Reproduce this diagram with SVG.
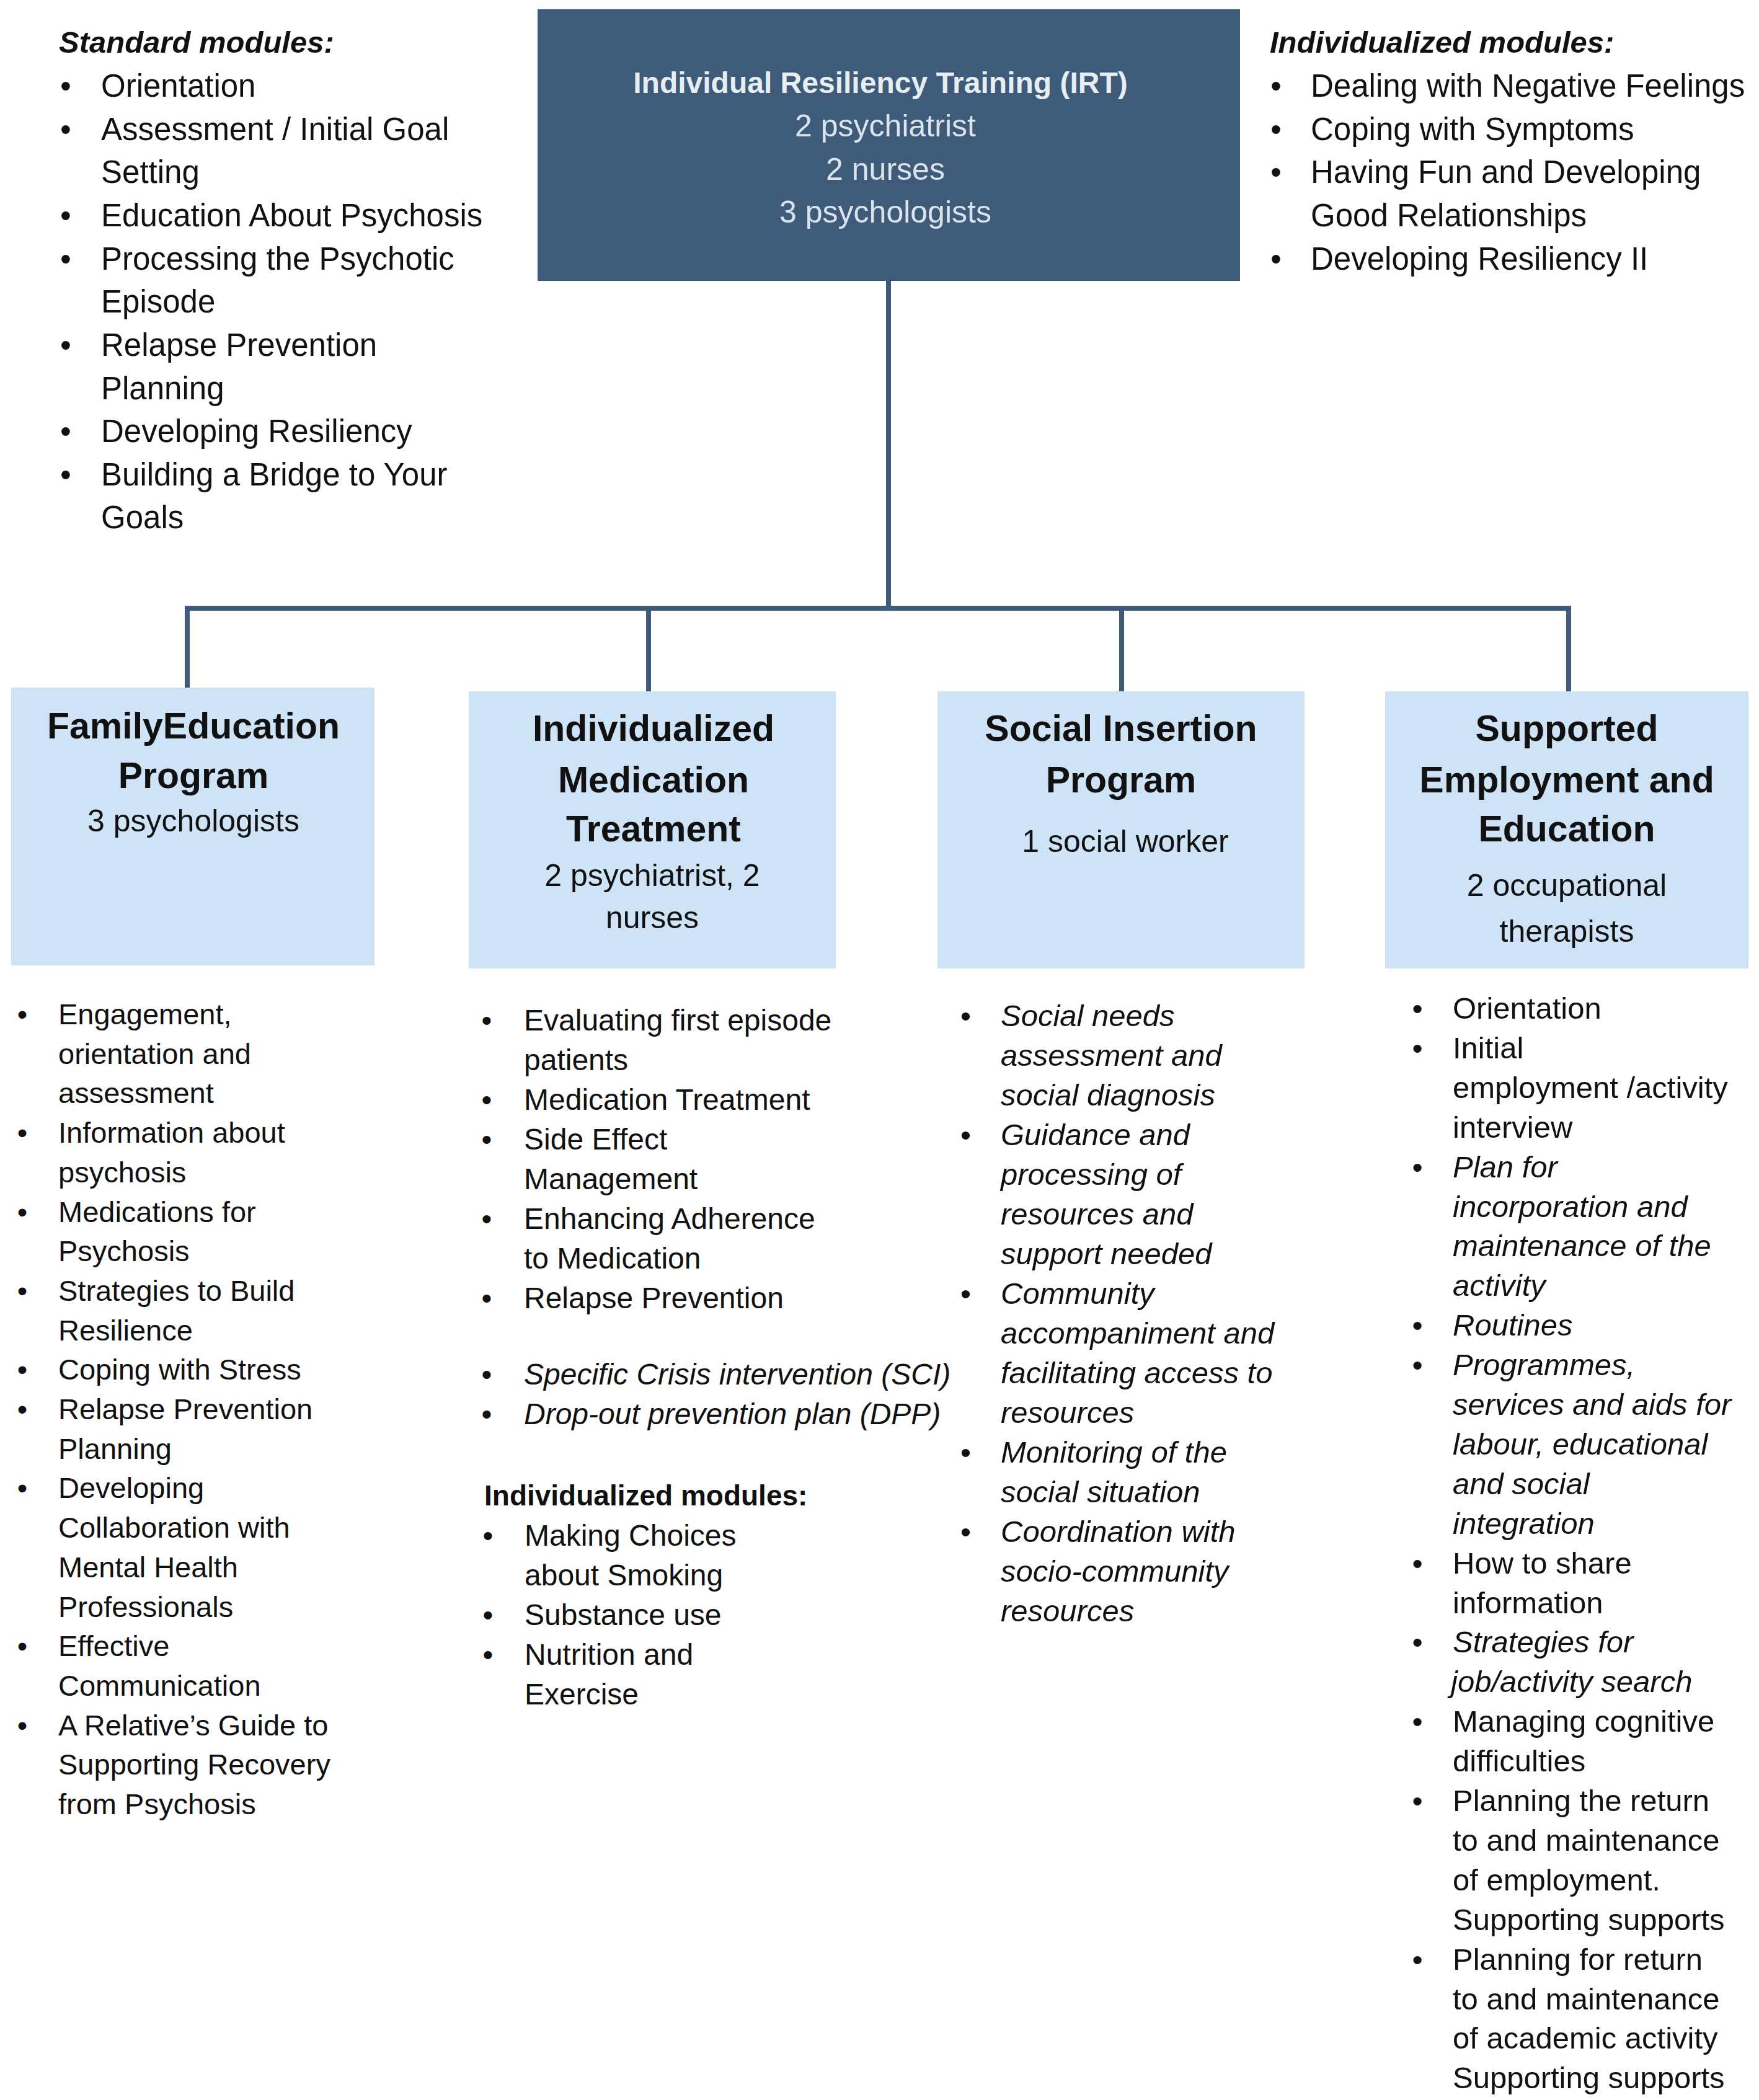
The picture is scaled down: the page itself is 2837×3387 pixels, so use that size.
<svg xmlns="http://www.w3.org/2000/svg" width="2837" height="3387" viewBox="0 0 2837 3387">
<style>
  text { font-family: "Liberation Sans", Arial, sans-serif; fill: #111111; }
  .top { font-size: 51px; }
  .toph { font-size: 49px; font-weight: bold; font-style: italic; }
  .bul { text-anchor: middle; }
  .c1 { font-size: 47px; }
  .c2 { font-size: 48px; }
  .c3 { font-size: 49px; font-style: italic; }
  .c4 { font-size: 49px; }
  .it { font-style: italic; }
  .bh { font-size: 46px; font-weight: bold; }
  .dark { fill: #3e5b79; }
  .light { fill: #cfe3f7; }
  .irt-t { font-size: 48px; font-weight: bold; fill: #e6edf3; text-anchor: middle; }
  .irt-s { font-size: 50px; fill: #dbe4ec; text-anchor: middle; }
  .bt { font-size: 59px; font-weight: bold; text-anchor: middle; }
  .bs { font-size: 50px; text-anchor: middle; }
  .conn { stroke: #3e5b79; stroke-width: 8; fill: none; }
</style>

<g id="connectors">
  <line class="conn" x1="1433" y1="450" x2="1433" y2="981"/>
  <line class="conn" x1="298" y1="981" x2="2534" y2="981"/>
  <line class="conn" x1="302" y1="981" x2="302" y2="1110"/>
  <line class="conn" x1="1046" y1="981" x2="1046" y2="1116"/>
  <line class="conn" x1="1809" y1="981" x2="1809" y2="1116"/>
  <line class="conn" x1="2530" y1="981" x2="2530" y2="1116"/>
</g>

<g id="node-irt">
  <rect class="dark" x="867" y="15" width="1133" height="438"/>
  <text class="irt-t" x="1420" y="150">Individual Resiliency Training (IRT)</text>
  <text class="irt-s" x="1428" y="220">2 psychiatrist</text>
  <text class="irt-s" x="1428" y="290">2 nurses</text>
  <text class="irt-s" x="1428" y="359">3 psychologists</text>
</g>

<g id="standard-modules">
  <text class="toph" x="95" y="85">Standard modules:</text>
  <g class="top">
    <text class="bul" x="106" y="156">•</text><text x="163" y="156">Orientation</text>
    <text class="bul" x="106" y="226">•</text><text x="163" y="226">Assessment / Initial Goal</text>
    <text x="163" y="295">Setting</text>
    <text class="bul" x="106" y="365">•</text><text x="163" y="365">Education About Psychosis</text>
    <text class="bul" x="106" y="435">•</text><text x="163" y="435">Processing the Psychotic</text>
    <text x="163" y="504">Episode</text>
    <text class="bul" x="106" y="574">•</text><text x="163" y="574">Relapse Prevention</text>
    <text x="163" y="644">Planning</text>
    <text class="bul" x="106" y="713">•</text><text x="163" y="713">Developing Resiliency</text>
    <text class="bul" x="106" y="783">•</text><text x="163" y="783">Building a Bridge to Your</text>
    <text x="163" y="852">Goals</text>
  </g>
</g>

<g id="individualized-modules">
  <text class="toph" x="2048" y="85">Individualized modules:</text>
  <g class="top">
    <text class="bul" x="2058" y="156">•</text><text x="2114" y="156">Dealing with Negative Feelings</text>
    <text class="bul" x="2058" y="226">•</text><text x="2114" y="226">Coping with Symptoms</text>
    <text class="bul" x="2058" y="295">•</text><text x="2114" y="295">Having Fun and Developing</text>
    <text x="2114" y="365">Good Relationships</text>
    <text class="bul" x="2058" y="435">•</text><text x="2114" y="435">Developing Resiliency II</text>
  </g>
</g>

<g id="node-family">
  <rect class="light" x="18" y="1109" width="586" height="448"/>
  <text class="bt" x="312" y="1191">FamilyEducation</text>
  <text class="bt" x="312" y="1271">Program</text>
  <text class="bs" x="312" y="1341">3 psychologists</text>
</g>

<g id="node-medication">
  <rect class="light" x="756" y="1115" width="592" height="447"/>
  <text class="bt" x="1054" y="1195">Individualized</text>
  <text class="bt" x="1054" y="1278">Medication</text>
  <text class="bt" x="1054" y="1357">Treatment</text>
  <text class="bs" x="1052" y="1429">2 psychiatrist, 2</text>
  <text class="bs" x="1052" y="1497">nurses</text>
</g>

<g id="node-social">
  <rect class="light" x="1512" y="1115" width="592" height="447"/>
  <text class="bt" x="1808" y="1195">Social Insertion</text>
  <text class="bt" x="1808" y="1278">Program</text>
  <text class="bs" x="1815" y="1374">1 social worker</text>
</g>

<g id="node-employment">
  <rect class="light" x="2234" y="1115" width="586" height="447"/>
  <text class="bt" x="2527" y="1195">Supported</text>
  <text class="bt" x="2527" y="1278">Employment and</text>
  <text class="bt" x="2527" y="1357">Education</text>
  <text class="bs" x="2527" y="1445">2 occupational</text>
  <text class="bs" x="2527" y="1519">therapists</text>
</g>

<g id="list-family" class="c1">
  <text class="bul" x="36" y="1652">•</text><text x="94" y="1652">Engagement,</text>
  <text x="94" y="1716">orientation and</text>
  <text x="94" y="1779">assessment</text>
  <text class="bul" x="36" y="1843">•</text><text x="94" y="1843">Information about</text>
  <text x="94" y="1907">psychosis</text>
  <text class="bul" x="36" y="1971">•</text><text x="94" y="1971">Medications for</text>
  <text x="94" y="2034">Psychosis</text>
  <text class="bul" x="36" y="2098">•</text><text x="94" y="2098">Strategies to Build</text>
  <text x="94" y="2162">Resilience</text>
  <text class="bul" x="36" y="2225">•</text><text x="94" y="2225">Coping with Stress</text>
  <text class="bul" x="36" y="2289">•</text><text x="94" y="2289">Relapse Prevention</text>
  <text x="94" y="2353">Planning</text>
  <text class="bul" x="36" y="2416">•</text><text x="94" y="2416">Developing</text>
  <text x="94" y="2480">Collaboration with</text>
  <text x="94" y="2544">Mental Health</text>
  <text x="94" y="2608">Professionals</text>
  <text class="bul" x="36" y="2671">•</text><text x="94" y="2671">Effective</text>
  <text x="94" y="2735">Communication</text>
  <text class="bul" x="36" y="2799">•</text><text x="94" y="2799">A Relative’s Guide to</text>
  <text x="94" y="2862">Supporting Recovery</text>
  <text x="94" y="2926">from Psychosis</text>
</g>

<g id="list-medication" class="c2">
  <text class="bul" x="785" y="1662">•</text><text x="845" y="1662">Evaluating first episode</text>
  <text x="845" y="1726">patients</text>
  <text class="bul" x="785" y="1790">•</text><text x="845" y="1790">Medication Treatment</text>
  <text class="bul" x="785" y="1854">•</text><text x="845" y="1854">Side Effect</text>
  <text x="845" y="1918">Management</text>
  <text class="bul" x="785" y="1982">•</text><text x="845" y="1982">Enhancing Adherence</text>
  <text x="845" y="2046">to Medication</text>
  <text class="bul" x="785" y="2110">•</text><text x="845" y="2110">Relapse Prevention</text>
  <text class="bul" x="785" y="2233">•</text><text class="it" x="845" y="2233">Specific Crisis intervention (SCI)</text>
  <text class="bul" x="785" y="2297">•</text><text class="it" x="845" y="2297">Drop-out prevention plan (DPP)</text>
  <text class="bh" x="781" y="2428">Individualized modules:</text>
  <text class="bul" x="787" y="2493">•</text><text x="846" y="2493">Making Choices</text>
  <text x="846" y="2557">about Smoking</text>
  <text class="bul" x="787" y="2621">•</text><text x="846" y="2621">Substance use</text>
  <text class="bul" x="787" y="2685">•</text><text x="846" y="2685">Nutrition and</text>
  <text x="846" y="2749">Exercise</text>
</g>

<g id="list-social" class="c3">
  <text class="bul" x="1557" y="1655">•</text><text x="1614" y="1655">Social needs</text>
  <text x="1614" y="1719">assessment and</text>
  <text x="1614" y="1783">social diagnosis</text>
  <text class="bul" x="1557" y="1847">•</text><text x="1614" y="1847">Guidance and</text>
  <text x="1614" y="1911">processing of</text>
  <text x="1614" y="1975">resources and</text>
  <text x="1614" y="2039">support needed</text>
  <text class="bul" x="1557" y="2103">•</text><text x="1614" y="2103">Community</text>
  <text x="1614" y="2167">accompaniment and</text>
  <text x="1614" y="2231">facilitating access to</text>
  <text x="1614" y="2295">resources</text>
  <text class="bul" x="1557" y="2359">•</text><text x="1614" y="2359">Monitoring of the</text>
  <text x="1614" y="2423">social situation</text>
  <text class="bul" x="1557" y="2487">•</text><text x="1614" y="2487">Coordination with</text>
  <text x="1614" y="2551">socio-community</text>
  <text x="1614" y="2615">resources</text>
</g>

<g id="list-employment" class="c4">
  <text class="bul" x="2286" y="1643">•</text><text x="2343" y="1643">Orientation</text>
  <text class="bul" x="2286" y="1707">•</text><text x="2343" y="1707">Initial</text>
  <text x="2343" y="1771">employment /activity</text>
  <text x="2343" y="1835">interview</text>
  <text class="bul" x="2286" y="1899">•</text><text class="it" x="2343" y="1899">Plan for</text>
  <text class="it" x="2343" y="1963">incorporation and</text>
  <text class="it" x="2343" y="2026">maintenance of the</text>
  <text class="it" x="2343" y="2090">activity</text>
  <text class="bul" x="2286" y="2154">•</text><text class="it" x="2343" y="2154">Routines</text>
  <text class="bul" x="2286" y="2218">•</text><text class="it" x="2343" y="2218">Programmes,</text>
  <text class="it" x="2343" y="2282">services and aids for</text>
  <text class="it" x="2343" y="2346">labour, educational</text>
  <text class="it" x="2343" y="2410">and social</text>
  <text class="it" x="2343" y="2474">integration</text>
  <text class="bul" x="2286" y="2538">•</text><text x="2343" y="2538">How to share</text>
  <text x="2343" y="2602">information</text>
  <text class="bul" x="2286" y="2665">•</text><text class="it" x="2343" y="2665">Strategies for</text>
  <text class="it" x="2340" y="2729">job/activity search</text>
  <text class="bul" x="2286" y="2793">•</text><text x="2343" y="2793">Managing cognitive</text>
  <text x="2343" y="2857">difficulties</text>
  <text class="bul" x="2286" y="2921">•</text><text x="2343" y="2921">Planning the return</text>
  <text x="2343" y="2985">to and maintenance</text>
  <text x="2343" y="3049">of employment.</text>
  <text x="2343" y="3113">Supporting supports</text>
  <text class="bul" x="2286" y="3177">•</text><text x="2343" y="3177">Planning for return</text>
  <text x="2343" y="3241">to and maintenance</text>
  <text x="2343" y="3304">of academic activity</text>
  <text x="2343" y="3368">Supporting supports</text>
</g>
</svg>
